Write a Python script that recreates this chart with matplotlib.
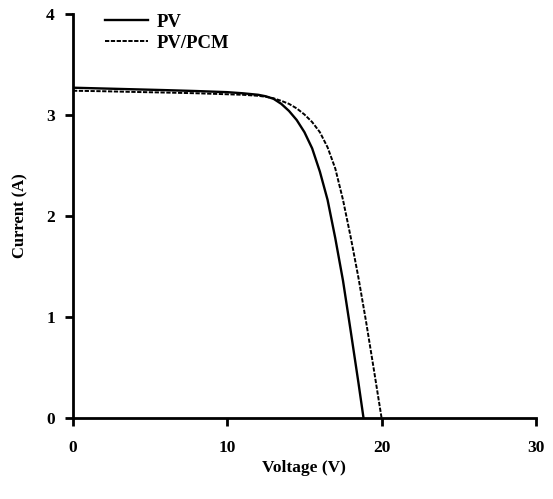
import matplotlib
matplotlib.use("Agg")
import matplotlib.pyplot as plt

pv_voltage = [0, 2, 4, 6, 8, 10, 11, 12, 12.5, 13, 13.5, 14, 14.5, 15, 15.5,
              16, 16.5, 17, 17.5, 18, 18.5, 18.83]
pv_current = [3.27, 3.262, 3.254, 3.246, 3.237, 3.226, 3.215, 3.20, 3.185, 3.16,
              3.11, 3.04, 2.95, 2.83, 2.67, 2.44, 2.16, 1.78, 1.36, 0.86, 0.35, 0.0]

pcm_voltage = [0, 2, 4, 6, 8, 10, 11, 12, 12.5, 13, 13.5, 14, 14.5, 15, 15.5,
               16, 16.5, 17, 17.5, 18, 18.5, 19, 19.5, 20.0]
pcm_current = [3.24, 3.235, 3.228, 3.222, 3.215, 3.205, 3.20, 3.19, 3.18, 3.165,
               3.14, 3.11, 3.065, 3.005, 2.93, 2.83, 2.68, 2.47, 2.16, 1.79,
               1.39, 0.95, 0.48, 0.0]

x_ticks = [0, 10, 20, 30]
y_ticks = [0, 1, 2, 3, 4]

plt.rcParams['font.family'] = ['Liberation Serif', 'DejaVu Serif']
plt.rcParams['font.weight'] = 'bold'

fig = plt.figure(figsize=(5.53, 4.99), dpi=100)
ax = fig.add_axes([0.132, 0.1623, 0.837, 0.8097])

ax.plot(pv_voltage, pv_current, color='black', lw=1.7, label='PV',
        solid_joinstyle='round')
ax.plot(pcm_voltage, pcm_current, color='black', lw=1.4, dashes=(2.2, 0.8),
        label='PV/PCM')

ax.set_xlim(0, 30)
ax.set_ylim(0, 4)
ax.set_xticks(x_ticks)
ax.set_yticks(y_ticks)
ax.set_xticklabels([str(t) for t in x_ticks], fontsize=12.5, fontweight='bold')
ax.set_yticklabels([str(t) for t in y_ticks], fontsize=12.5, fontweight='bold')

for s in ['top', 'right']:
    ax.spines[s].set_visible(False)
for s in ['left', 'bottom']:
    ax.spines[s].set_linewidth(2)
ax.tick_params(axis='x', direction='out', length=6, width=2, pad=10)
ax.tick_params(axis='y', direction='out', length=6, width=2, pad=7)

ax.set_xlabel('Voltage (V)', fontsize=12.5, fontweight='bold', labelpad=3)
ax.set_ylabel('Current (A)', fontsize=12, fontweight='bold', labelpad=13)

ax.legend(loc='upper left', bbox_to_anchor=(0.032, 1.042), frameon=False,
          handlelength=2.3, handletextpad=0.5, labelspacing=0.2,
          prop={'weight': 'bold', 'size': 13.5})

fig.savefig('out.png', dpi=100)
